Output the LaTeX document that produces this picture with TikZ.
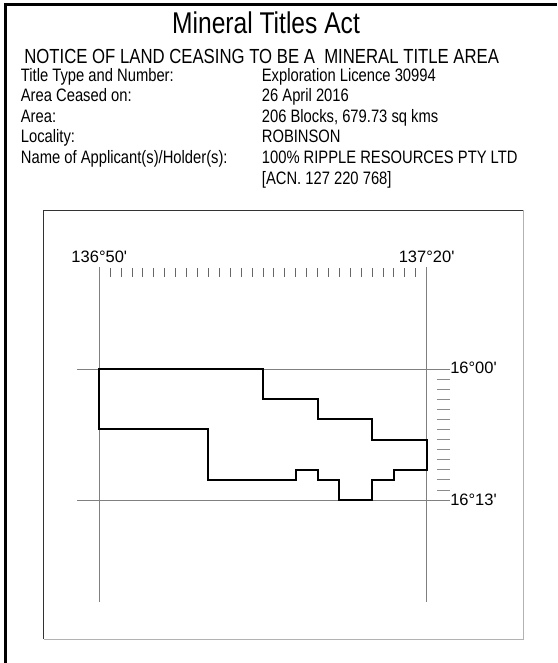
\documentclass[tikz,border=0pt]{standalone}
\usepackage{fontspec}
\setmainfont{Liberation Sans}[FakeStretch=0.82]
\newfontfamily\mapfont{Liberation Sans}
\usetikzlibrary{calc}

\tikzset{
  rowtext/.style={anchor=base west, inner sep=0pt, font=\fontsize{18}{20}\selectfont},
  headtext/.style={anchor=base, inner sep=0pt},
  maplabel/.style={inner sep=0pt, font=\mapfont\fontsize{16.5}{18}\selectfont},
  gridline/.style={draw=black!50, line width=0.9pt},
  tickline/.style={draw=black!60, line width=0.9pt},
  blockline/.style={draw=black, line width=2pt, line join=miter}
}

\begin{document}
\begin{tikzpicture}[x=1pt,y=-1pt]
  \useasboundingbox (0,0) rectangle (557,663);

  \draw [line width=3pt] (5.5,663) -- (5.5,5) -- (557,5);

  \node [headtext, font=\fontsize{30}{32}\selectfont] (title) at (266,33.3) {Mineral Titles Act};
  \node [headtext, font=\fontsize{20.4}{22}\selectfont] (notice) at (261.7,63.3)
    {NOTICE OF LAND CEASING TO BE A\ \ MINERAL TITLE AREA};

  \node [rowtext] (typeK)    at (20.7,81.5)  {Title Type and Number:};
  \node [rowtext] (typeV)    at (261.7,81.5) {Exploration Licence 30994};
  \node [rowtext] (ceasedK)  at (20.7,102)   {Area Ceased on:};
  \node [rowtext] (ceasedV)  at (261.7,102)  {26 April 2016};
  \node [rowtext] (areaK)    at (20.7,122.5) {Area:};
  \node [rowtext] (areaV)    at (261.7,122.5){206 Blocks, 679.73 sq kms};
  \node [rowtext] (placeK)   at (20.7,143)   {Locality:};
  \node [rowtext] (placeV)   at (261.7,143)  {ROBINSON};
  \node [rowtext] (holderK)  at (20.7,163.5) {Name of Applicant(s)/Holder(s):};
  \node [rowtext] (holderV)  at (261.7,163.5){100\% RIPPLE RESOURCES PTY LTD};
  \node [rowtext] (acn)      at (261.7,184)  {[ACN. 127 220 768]};

  \draw [line width=1pt, black!80] (43.5,639) -- (43.5,210) -- (523.3,210);
  \draw [line width=1pt, black!30] (523.3,210) -- (523.3,639) -- (43.5,639);

  \begin{scope}[shift={(99.3,369)}, x=10.91pt, y=-10.08pt]
    \draw [gridline] (0,-10.1) -- (0,23.1);
    \draw [gridline] (30,-10.1) -- (30,23.1);
    \draw [gridline] (-2,0) -- (32.1,0);
    \draw [gridline] (-2,13) -- (32.1,13);

    \foreach \i in {1,...,29}
      \draw [tickline] (\i,-10.0) -- (\i,-9.1);
    \foreach \j in {1,...,12}
      \draw [tickline, draw=black!45] (30.95,\j) -- (32.1,\j);

    \node [maplabel, anchor=base] (lonW) at (0,-10.6) {136°50'};
    \node [maplabel, anchor=base] (lonE) at (30,-10.6) {137°20'};
    \node [maplabel, anchor=base west] (latN) at (32.15,0.43) {16°00'};
    \node [maplabel, anchor=base west] (latS) at (32.15,13.55) {16°13'};

    \draw [blockline] (0,0) -- (15,0) -- (15,3) -- (20,3) -- (20,5) -- (25,5)
      -- (25,7) -- (30,7) -- (30,10) -- (27,10) -- (27,11) -- (25,11) -- (25,13)
      -- (22,13) -- (22,11) -- (20,11) -- (20,10) -- (18,10) -- (18,11)
      -- (10,11) -- (10,6) -- (0,6) -- cycle;
  \end{scope}
\end{tikzpicture}
\end{document}
